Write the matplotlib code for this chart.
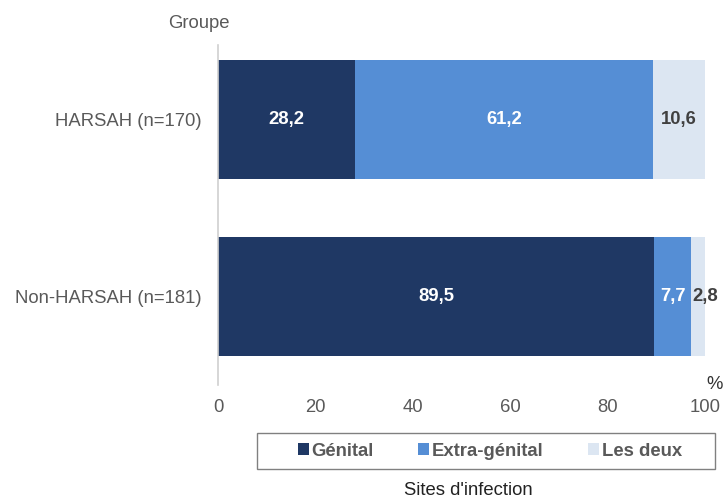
import matplotlib
matplotlib.use("Agg")
import matplotlib.pyplot as plt
from matplotlib.patches import Patch, Rectangle

plt.rcParams['font.family'] = ['Liberation Sans', 'DejaVu Sans']

groups = ["Non-HARSAH (n=181)", "HARSAH (n=170)"]
series_names = ["Génital", "Extra-génital", "Les deux"]
genital = [89.5, 28.2]
extra_genital = [7.7, 61.2]
les_deux = [2.8, 10.6]
series_values = [genital, extra_genital, les_deux]
x_ticks = [0, 20, 40, 60, 80, 100]

colors = ["#1F3864", "#558ED5", "#DCE6F2"]
label_colors = ["white", "white", "#404040"]
text_gray = "#595959"
fs = 13.3
W, H = 724, 498

fig = plt.figure(figsize=(W / 100, H / 100), dpi=100)
ax = fig.add_axes([218 / W, 113 / H, 487 / W, 340 / H])

ypos = list(range(len(groups)))
bar_h = 0.674
left = [0.0] * len(groups)
for name, vals, col, lc in zip(series_names, series_values, colors, label_colors):
    ax.barh(ypos, vals, left=left, height=bar_h, color=col, edgecolor="none")
    for i, (v, l) in enumerate(zip(vals, left)):
        if v < 5:
            cx, ha = l + 0.3, "left"
        else:
            cx, ha = l + v / 2, "center"
        ax.text(cx, ypos[i], f"{v:.1f}".replace(".", ","), ha=ha, va="center",
                color=lc, fontsize=fs, fontweight="bold", clip_on=False)
    left = [a + b for a, b in zip(left, vals)]

ax.set_xlim(0, 100)
ax.set_ylim(-0.504, 1.422)
ax.set_yticks(ypos)
ax.set_yticklabels(groups)
ax.set_xticks(x_ticks)
ax.set_xticklabels([str(t) for t in x_ticks])
ax.tick_params(axis="both", length=0, labelsize=fs, colors=text_gray)
ax.tick_params(axis="y", pad=12)
ax.tick_params(axis="x", pad=10)
for s in ["top", "right", "bottom"]:
    ax.spines[s].set_visible(False)
ax.spines["left"].set_color("#D0D0D0")
ax.spines["left"].set_linewidth(1.2)

fig.text(230 / W, 1 - 24 / H, "Groupe", ha="right", va="center",
         fontsize=fs, color=text_gray)
fig.text(715 / W, 1 - 384 / H, "%", ha="center", va="center",
         fontsize=fs, color="#333333")
fig.text(468 / W, 1 - 490 / H, "Sites d'infection", ha="center", va="center",
         fontsize=fs, color="#222222")

# legend box drawn separately so its width can differ from its content
fig.patches.append(Rectangle((257 / W, 1 - 469 / H), 458 / W, 36 / H,
                             transform=fig.transFigure, facecolor="white",
                             edgecolor="#808080", linewidth=1.0))
handles = [Patch(facecolor=c, edgecolor="none") for c in colors]
leg = fig.legend(handles, series_names, loc="center",
                 bbox_to_anchor=(490 / W, 1 - 451 / H), ncol=3,
                 frameon=False, handlelength=0.6, handleheight=0.6,
                 handletextpad=0.15, columnspacing=2.4, borderpad=0.0,
                 prop={"weight": "bold", "size": fs})
for t in leg.get_texts():
    t.set_color(text_gray)

fig.savefig("out.png", dpi=100)
